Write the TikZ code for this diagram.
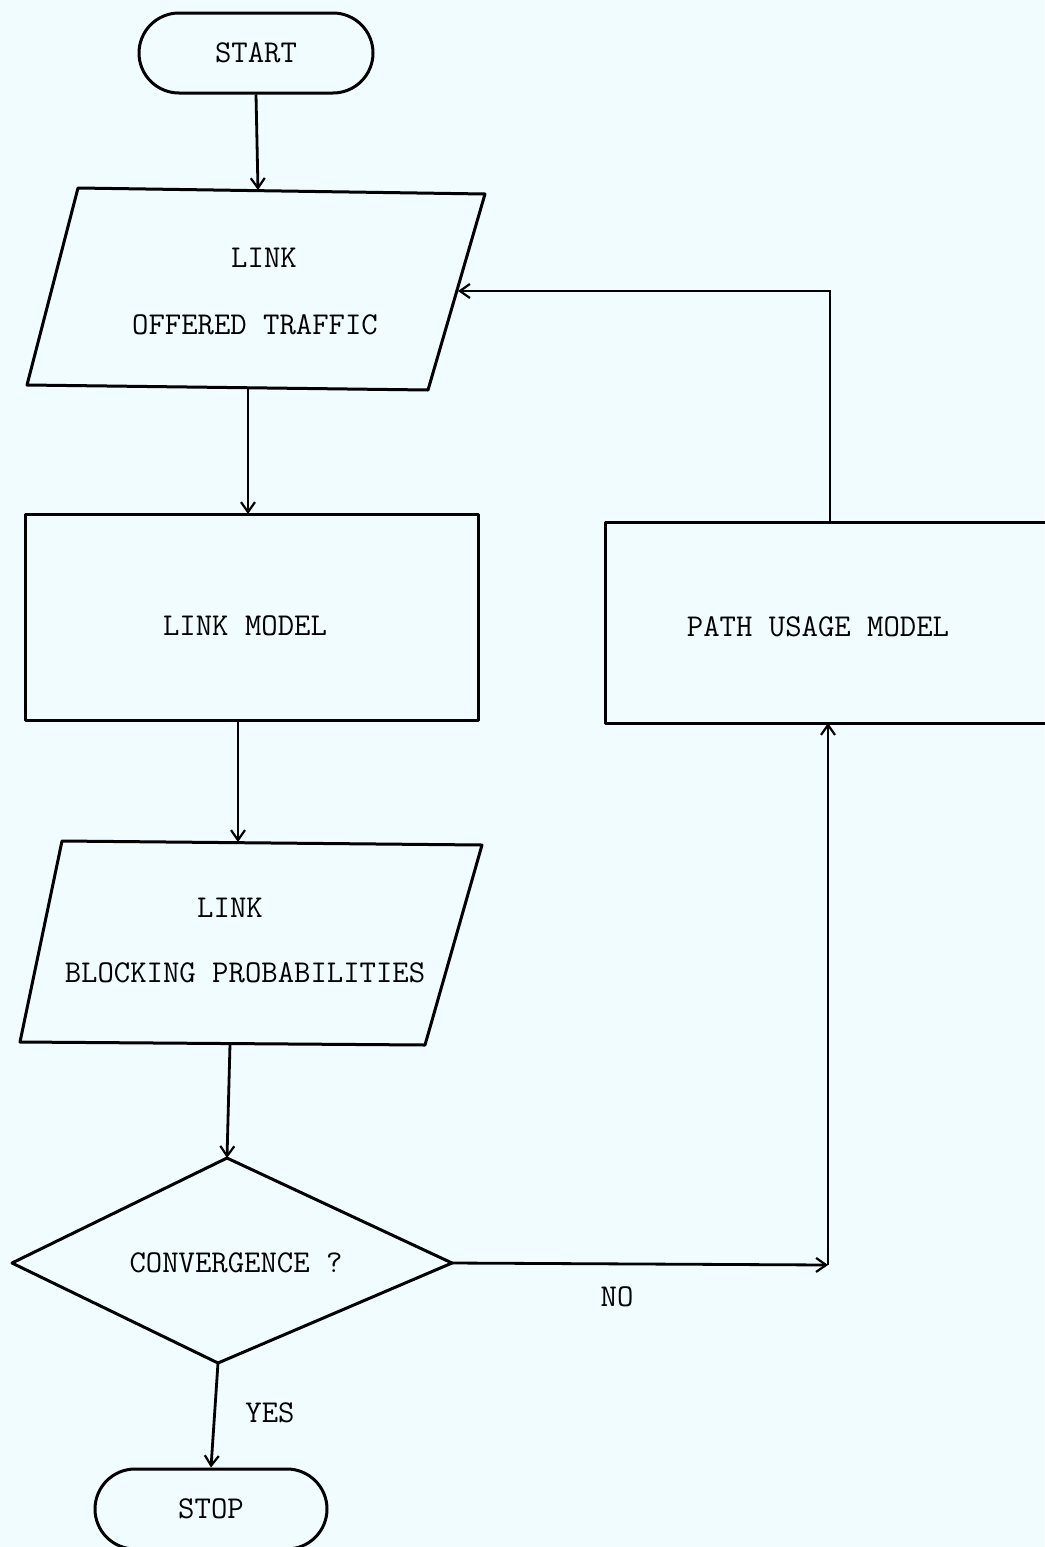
\documentclass[tikz,border=0pt]{standalone}
\usepackage{fontspec}
\usetikzlibrary{arrows.meta}
\definecolor{paper}{RGB}{240,252,255}
\begin{document}
\begin{tikzpicture}[x=0.5pt,y=-0.5pt,
  outline/.style={draw=black,line width=1.5pt,line join=round},
  pill/.style={outline,rectangle,rounded corners=20pt,minimum height=40pt,inner sep=0pt},
  flow/.style={draw=black,line width=1.4pt,-{Straight Barb[length=5pt,width=7pt,line width=1.1pt]}},
  caption/.style={font=\ttfamily\fontsize{15.9pt}{18pt}\selectfont,inner sep=0pt,anchor=center},
]
% page
\fill[paper] (0,0) rectangle (1044,1547);
\useasboundingbox (0,0) rectangle (1044,1547);

% terminals
\node[pill,caption,minimum width=117pt] (start) at (256,53) {START};
\node[pill,caption,minimum width=116pt] (stop) at (211,1509) {STOP};

% input: link offered traffic
\draw[outline] (78,188) -- (485,194) -- (428,390) -- (27,385) -- cycle;
\coordinate (inA) at (258,190);
\coordinate (outA) at (248,388);
\coordinate (sideA) at (458,291);
\node[caption] (linkA) at (264,258) {LINK};
\node[caption] (offered) at (255,325) {OFFERED TRAFFIC};

% link model
\draw[outline] (25,514) rectangle (478,720);
\coordinate (inM) at (248,514);
\coordinate (outM) at (238,720);
\node[caption] (linkmodel) at (245,626) {LINK MODEL};

% output: link blocking probabilities
\draw[outline] (62,841) -- (482,845) -- (425,1045) -- (20,1042) -- cycle;
\coordinate (inB) at (238,842);
\coordinate (outB) at (230,1044);
\node[caption] (linkB) at (230,908) {LINK};
\node[caption] (blocking) at (245,973) {BLOCKING PROBABILITIES};

% decision
\draw[outline] (227,1158) -- (452,1263) -- (218,1363) -- (12,1263) -- cycle;
\coordinate (dtop) at (227,1158);
\coordinate (dright) at (452,1263);
\coordinate (dbottom) at (218,1363);
\node[caption] (conv) at (236,1263) {CONVERGENCE ?};

% path usage model (runs off the right side)
\draw[outline] (1060,522) -- (605,522) -- (605,723) -- (1060,723);
\coordinate (inP) at (828,723);
\coordinate (outP) at (830,522);
\node[caption] (pathusage) at (818,627) {PATH USAGE MODEL};

% loop corners
\coordinate (cornerLow) at (828,1265);
\coordinate (cornerHigh) at (830,291);

% connectors
\draw[flow] (start.south) -- (inA);
\draw[flow] (outA) -- (inM);
\draw[flow] (outM) -- (inB);
\draw[flow] (outB) -- (dtop);
\draw[flow] (dbottom) -- (stop.north);
\draw[flow] (dright) -- (cornerLow);
\draw[flow] (cornerLow) -- (inP);
\draw[flow] (outP) -- (cornerHigh) -- (sideA);

% branch labels
\node[caption] (yes) at (270,1413) {YES};
\node[caption] (no) at (617,1297) {NO};
\end{tikzpicture}
\end{document}
